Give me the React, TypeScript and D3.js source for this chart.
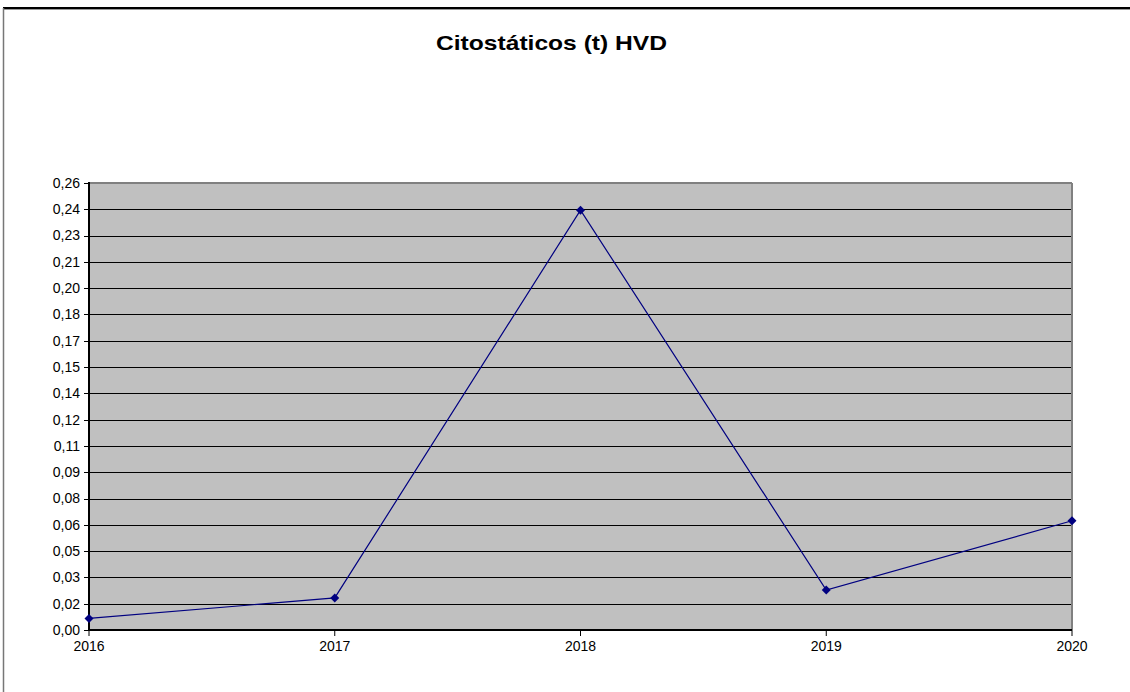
import React from "react";
import * as d3 from "d3";

const categories = ["2016", "2017", "2018", "2019", "2020"];
const values = [0.0066, 0.0183, 0.2395, 0.0228, 0.0623];
const tickValues = [0, 0.015, 0.03, 0.045, 0.06, 0.075, 0.09, 0.105, 0.12, 0.135, 0.15, 0.165, 0.18, 0.195, 0.21, 0.225, 0.24, 0.255];
const tickLabels = ["0,00", "0,02", "0,03", "0,05", "0,06", "0,08", "0,09", "0,11", "0,12", "0,14", "0,15", "0,17", "0,18", "0,20", "0,21", "0,23", "0,24", "0,26"];
const title = "Citostáticos (t) HVD";

const W = 1130, H = 692;
const left = 89, right = 1072, top = 183, bottom = 630;

export default function App() {
  const x = d3.scalePoint<string>().domain(categories).range([left, right]);
  const y = d3.scaleLinear().domain([0, 0.255]).range([bottom, top]);
  const line = d3.line<number>().x((_, i) => x(categories[i])!).y((d) => y(d));
  const marker = d3.symbol().type(d3.symbolSquare).size(40)();
  const font = "Arial, 'Liberation Sans', sans-serif";

  return (
    <svg width={W} height={H} style={{ position: "absolute", left: 0, top: 0 }}>
      <rect x={0} y={0} width={W} height={H} fill="#fff" />
      {/* outer frame */}
      <line x1={3} x2={W} y1={8} y2={8} stroke="#000" strokeWidth={2} />
      <line x1={3} x2={W} y1={9.5} y2={9.5} stroke="#999" strokeWidth={1} />
      <line x1={3.5} x2={3.5} y1={8} y2={H} stroke="#777" strokeWidth={1.5} />
      <text x={551.5} y={50} textAnchor="middle" fontFamily={font} fontWeight="bold" fontSize={21} fill="#000" textLength={231} lengthAdjust="spacingAndGlyphs">
        {title}
      </text>
      <rect x={left} y={top} width={right - left} height={bottom - top} fill="#C0C0C0" />
      {tickValues.map((t, i) => (
        <g key={i}>
          {i > 0 && i < tickValues.length - 1 && (
            <line x1={left} x2={right} y1={Math.round(y(t)) + 0.5} y2={Math.round(y(t)) + 0.5} stroke="#000" strokeWidth={1} />
          )}
          <line x1={left - 5} x2={left} y1={Math.round(y(t)) + 0.5} y2={Math.round(y(t)) + 0.5} stroke="#000" strokeWidth={1} />
          <text x={80} y={y(t)} dy="0.35em" textAnchor="end" fontFamily={font} fontSize={14} fill="#000">
            {tickLabels[i]}
          </text>
        </g>
      ))}
      {/* plot border top/right */}
      <line x1={left} x2={right} y1={top} y2={top} stroke="#808080" strokeWidth={2} />
      <line x1={right} x2={right} y1={top} y2={bottom} stroke="#808080" strokeWidth={2} />
      {/* axes */}
      <line x1={left} x2={left} y1={top - 1} y2={bottom + 1} stroke="#000" strokeWidth={2} />
      <line x1={left - 1} x2={right} y1={bottom} y2={bottom} stroke="#000" strokeWidth={2} />
      {categories.map((c) => (
        <g key={c}>
          <line x1={x(c)!} x2={x(c)!} y1={bottom} y2={bottom + 6} stroke="#000" strokeWidth={1} />
          <text x={x(c)!} y={651} textAnchor="middle" fontFamily={font} fontSize={14} fill="#000">
            {c}
          </text>
        </g>
      ))}
      <path d={line(values)!} fill="none" stroke="#000080" strokeWidth={1.2} />
      {values.map((v, i) => (
        <path key={i} d={marker!} transform={`translate(${x(categories[i])},${y(v)}) rotate(45)`} fill="#000080" />
      ))}
    </svg>
  );
}
